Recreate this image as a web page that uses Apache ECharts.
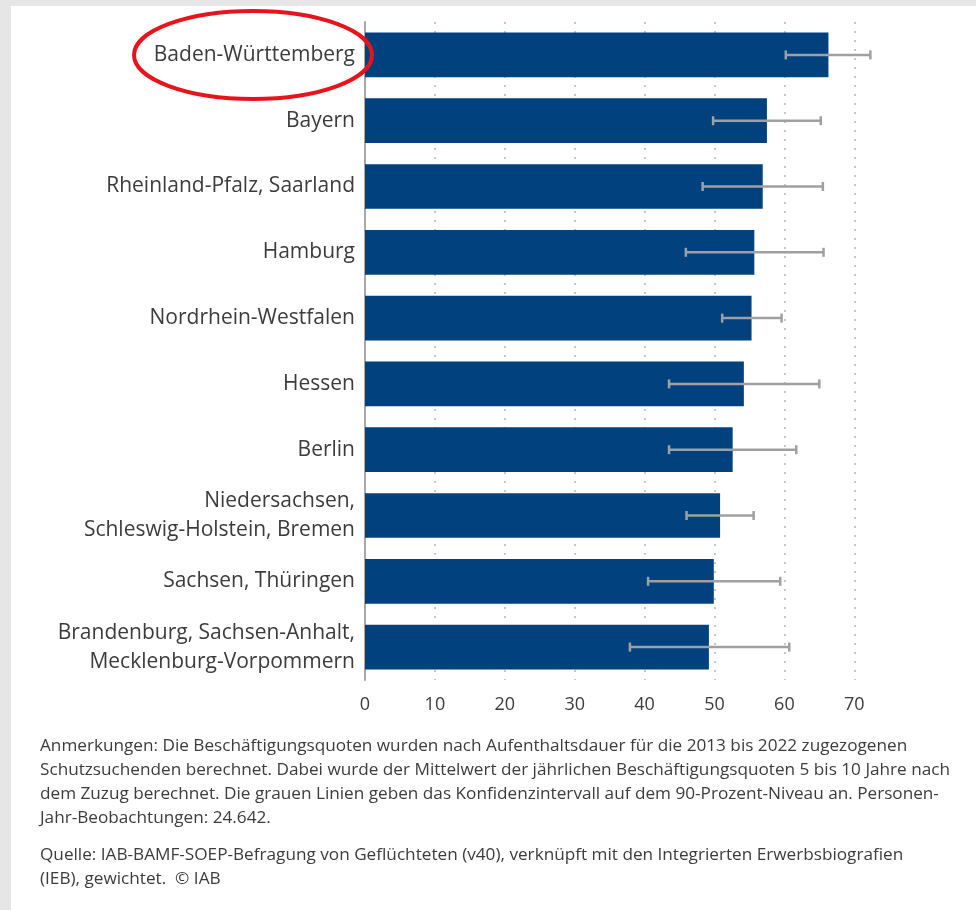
<!DOCTYPE html>
<html>
<head>
<meta charset="utf-8">
<script src="https://cdn.jsdelivr.net/npm/echarts@6/dist/echarts.min.js"></script>
<style>
html,body{margin:0;padding:0;background:#e6e6e6;}
#wrap{position:absolute;left:11px;top:6px;right:0;bottom:0;background:#fff;}
#chart{position:absolute;left:0;top:0;width:976px;height:910px;}
</style>
</head>
<body>
<div id="wrap"></div>
<div id="chart"></div>
<script>
const categories = [
  "Baden-Württemberg",
  "Bayern",
  "Rheinland-Pfalz, Saarland",
  "Hamburg",
  "Nordrhein-Westfalen",
  "Hessen",
  "Berlin",
  "Niedersachsen,\nSchleswig-Holstein, Bremen",
  "Sachsen, Thüringen",
  "Brandenburg, Sachsen-Anhalt,\nMecklenburg-Vorpommern"
];
const values = [66.3, 57.5, 56.9, 55.7, 55.3, 54.2, 52.6, 50.8, 49.9, 49.2];
const ciLow  = [60.2, 49.8, 48.3, 45.9, 51.1, 43.5, 43.5, 46.0, 40.5, 37.9];
const ciHigh = [72.3, 65.2, 65.5, 65.6, 59.6, 65.0, 61.7, 55.6, 59.4, 60.7];
const xTicks = [0, 10, 20, 30, 40, 50, 60, 70];

const noteLines = [
  "Anmerkungen: Die Beschäftigungsquoten wurden nach Aufenthaltsdauer für die 2013 bis 2022 zugezogenen",
  "Schutzsuchenden berechnet. Dabei wurde der Mittelwert der jährlichen Beschäftigungsquoten 5 bis 10 Jahre nach",
  "dem Zuzug berechnet. Die grauen Linien geben das Konfidenzintervall auf dem 90-Prozent-Niveau an. Personen-",
  "Jahr-Beobachtungen: 24.642."
];
const sourceLines = [
  "Quelle: IAB-BAMF-SOEP-Befragung von Geflüchteten (v40), verknüpft mit den Integrierten Erwerbsbiografien",
  "(IEB), gewichtet.  © IAB"
];

const FONT = '"Open Sans", "Noto Sans", sans-serif';
const NOTE_FONT = '16px ' + FONT;
const chart = echarts.init(document.getElementById('chart'), null, {renderer: 'canvas'});

// horizontal condensing so the widest note line spans the same width as in the original
const mctx = document.createElement('canvas').getContext('2d');
mctx.font = NOTE_FONT;
const widest = Math.max.apply(null, noteLines.concat(sourceLines).map(t => mctx.measureText(t).width));
const noteScale = 910 / widest;

const errData = categories.map((c, i) => [i, ciLow[i], ciHigh[i]]);

const graphics = [
  {
    type: 'ellipse',
    shape: {cx: 253, cy: 55, rx: 119, ry: 44},
    style: {fill: 'none', stroke: '#e8141b', lineWidth: 4},
    z: 100
  }
];
noteLines.forEach((t, i) => {
  graphics.push({type: 'text', x: 40, y: 738 + i * 24, scaleX: noteScale,
    style: {text: t, font: NOTE_FONT, fill: '#3c3c3c'}});
});
sourceLines.forEach((t, i) => {
  graphics.push({type: 'text', x: 40, y: 847 + i * 24, scaleX: noteScale,
    style: {text: t, font: NOTE_FONT, fill: '#3c3c3c'}});
});

chart.setOption({
  backgroundColor: 'transparent',
  animation: false,
  grid: {left: 365, right: 121.7, top: 22, bottom: 230, containLabel: false},
  xAxis: {
    type: 'value', min: xTicks[0], max: xTicks[xTicks.length - 1], interval: 10,
    axisLine: {show: false}, axisTick: {show: false},
    axisLabel: {color: '#3c3c3c', fontSize: 18, fontFamily: FONT, margin: 16},
    splitLine: {show: true, lineStyle: {color: '#b5b5b5', type: [2, 7], width: 1.5}}
  },
  yAxis: {
    type: 'category', data: categories, inverse: true,
    axisLine: {show: true, lineStyle: {color: '#a8a8a8', width: 2}},
    axisTick: {show: false},
    axisLabel: {color: '#3c3c3c', fontSize: 21, fontFamily: FONT, margin: 10, lineHeight: 29,
      align: 'right', padding: [6, 0, 0, 0]}
  },
  series: [
    {
      type: 'bar', data: values, barCategoryGap: '32%',
      itemStyle: {color: '#00417e'}, z: 2
    },
    {
      type: 'custom', data: errData, z: 5,
      renderItem: function (params, api) {
        const idx = api.value(0);
        const lo = api.coord([api.value(1), idx]);
        const hi = api.coord([api.value(2), idx]);
        const h = 4.5;
        const st = {stroke: '#a0a0a0', lineWidth: 2.5};
        return {
          type: 'group',
          children: [
            {type: 'line', shape: {x1: lo[0], y1: lo[1], x2: hi[0], y2: hi[1]}, style: st},
            {type: 'line', shape: {x1: lo[0], y1: lo[1] - h, x2: lo[0], y2: lo[1] + h}, style: st},
            {type: 'line', shape: {x1: hi[0], y1: hi[1] - h, x2: hi[0], y2: hi[1] + h}, style: st}
          ]
        };
      },
      encode: {x: [1, 2], y: 0}
    }
  ],
  graphic: graphics
});
</script>
</body>
</html>
